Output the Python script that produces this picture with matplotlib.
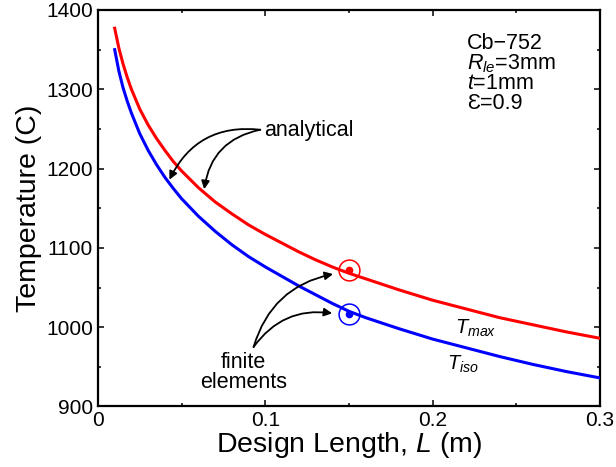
import matplotlib
matplotlib.use("Agg")
import matplotlib.pyplot as plt
from matplotlib.ticker import MultipleLocator, FuncFormatter

plt.rcParams['font.family'] = ['Liberation Sans', 'DejaVu Sans']
plt.rcParams['mathtext.fontset'] = 'custom'
plt.rcParams['mathtext.rm'] = 'Liberation Sans'
plt.rcParams['mathtext.it'] = 'Liberation Sans:italic'
plt.rcParams['mathtext.bf'] = 'Liberation Sans:bold'

# Design length L (m)
L_vals = [0.01, 0.0125, 0.015, 0.0175, 0.02, 0.025, 0.03, 0.035, 0.04, 0.045,
          0.05, 0.06, 0.07, 0.08, 0.09, 0.10, 0.11, 0.12, 0.13, 0.14, 0.15,
          0.16, 0.18, 0.20, 0.22, 0.24, 0.26, 0.28, 0.30]
# Analytical T_max (red)
T_max = [1377, 1352, 1332, 1315, 1300, 1275, 1255, 1238, 1223, 1209,
         1197, 1176, 1158, 1143, 1129, 1117, 1106, 1095, 1085, 1076, 1068,
         1061, 1047, 1034, 1023, 1012, 1003, 994, 986]
# Analytical T_iso (blue)
T_iso = [1350, 1323, 1302, 1285, 1270, 1244, 1223, 1205, 1189, 1175,
         1162, 1140, 1121, 1104, 1089, 1076, 1064, 1052, 1041, 1030, 1020,
         1012, 998, 985, 974, 963, 953, 944, 936]
# Finite element points
fe_L = [0.15, 0.15]
fe_T = [1072, 1016]
fe_colors = ['red', 'blue']

fig = plt.figure(figsize=(6.16, 4.67), dpi=100)
ax = fig.add_axes([0.159, 0.1296, 0.815, 0.849])

ax.plot(L_vals, T_max, color='red', lw=2.2, zorder=3, solid_joinstyle='round')
ax.plot(L_vals, T_iso, color='blue', lw=2.2, zorder=3, solid_joinstyle='round')
for x, y, c in zip(fe_L, fe_T, fe_colors):
    ax.plot([x], [y], 'o', ms=15, mfc='none', mec=c, mew=1.1, zorder=4)
    ax.plot([x], [y], 'o', ms=4.5, color=c, zorder=4)

ax.set_xlim(0, 0.3)
ax.set_ylim(900, 1400)
ax.xaxis.set_major_locator(MultipleLocator(0.1))
ax.xaxis.set_minor_locator(MultipleLocator(0.05))
ax.yaxis.set_major_locator(MultipleLocator(100))
ax.yaxis.set_minor_locator(MultipleLocator(50))
ax.xaxis.set_major_formatter(FuncFormatter(
    lambda v, p: '0' if abs(v) < 1e-9 else ('%.1f' % v)))
ax.tick_params(which='both', direction='in', top=True, right=True,
               labelsize=15, width=1.1, colors='black')
ax.tick_params(axis='x', pad=3)
ax.tick_params(which='major', length=4)
ax.tick_params(which='minor', length=2.5)
for s in ax.spines.values():
    s.set_linewidth(1.6)

ax.set_xlabel('Design Length, $L$ (m)', fontsize=20.5, labelpad=0)
ax.set_ylabel('Temperature (C)', fontsize=20.5, labelpad=3)

ax.text(0.2205, 1371, 'Cb\u2212752\n$R_{le}$=3mm\n$t$=1mm\n\u0190=0.9',
        fontsize=15.5, va='top', ha='left', linespacing=0.9)

ax.text(0.2257, 999, '$T_{max}$', fontsize=14.5, ha='center', va='center')
ax.text(0.218, 953, '$T_{iso}$', fontsize=14.5, ha='center', va='center')

ax.text(0.0995, 1248, 'analytical', fontsize=15.5, ha='left', va='center')
ax.text(0.0871, 969, 'finite\nelements', fontsize=15.5, ha='center', va='top',
        linespacing=0.95)

arrow_kw = dict(arrowstyle='-|>', color='black', lw=1.3, mutation_scale=12,
                shrinkA=0, shrinkB=0)
ax.annotate('', xy=(0.0427, 1186), xytext=(0.097, 1249),
            arrowprops=dict(connectionstyle='arc3,rad=0.35', **arrow_kw))
ax.annotate('', xy=(0.0635, 1174), xytext=(0.097, 1249),
            arrowprops=dict(connectionstyle='arc3,rad=0.35', **arrow_kw))
ax.annotate('', xy=(0.1405, 1067), xytext=(0.093, 975),
            arrowprops=dict(connectionstyle='arc3,rad=-0.3', **arrow_kw))
ax.annotate('', xy=(0.14, 1017.5), xytext=(0.093, 975),
            arrowprops=dict(connectionstyle='arc3,rad=-0.3', **arrow_kw))

fig.savefig('out.png', dpi=100)
